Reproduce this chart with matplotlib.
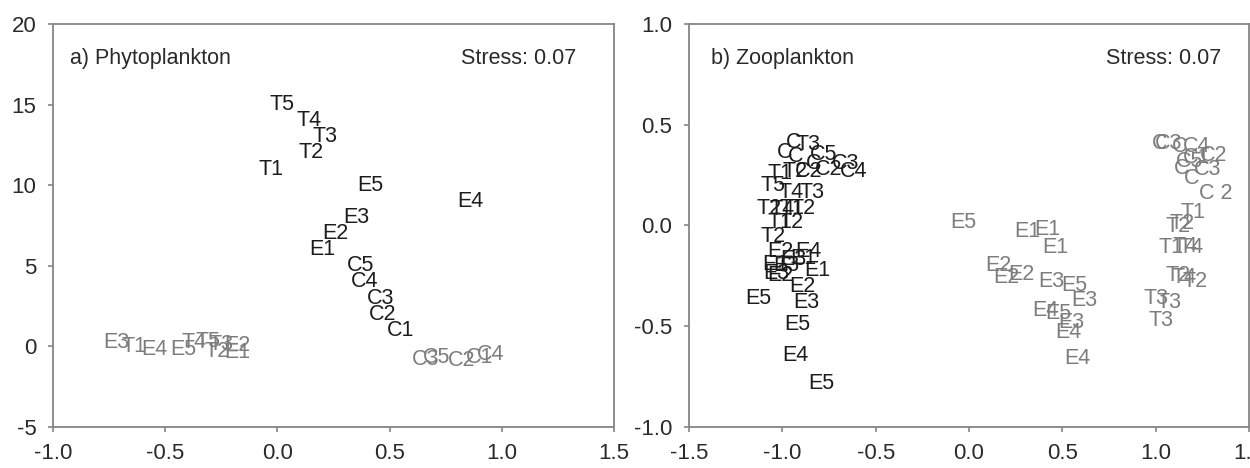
import matplotlib
matplotlib.use("Agg")
import matplotlib.pyplot as plt

plt.rcParams['font.family'] = ['Liberation Sans', 'DejaVu Sans']

# ---------------- Panel a: Phytoplankton ----------------
a_black_names = ["T5", "T4", "T3", "T2", "T1", "E5", "E4", "E3", "E2", "E1",
                 "C5", "C4", "C3", "C2", "C1"]
a_black_x = [0.02, 0.14, 0.21, 0.15, -0.03, 0.415, 0.86, 0.35, 0.26, 0.20,
             0.37, 0.39, 0.46, 0.47, 0.55]
a_black_y = [15.0, 14.0, 13.0, 12.0, 11.0, 10.0, 9.0, 8.0, 7.0, 6.0,
             5.0, 4.0, 3.0, 2.0, 1.0]

a_gray_names = ["E3", "T1", "E4", "E5", "T4", "T5", "T3", "T2", "E2", "E1",
                "C3", "C5", "C2", "C1", "C4"]
a_gray_x = [-0.72, -0.64, -0.55, -0.42, -0.37, -0.31, -0.25, -0.27, -0.18, -0.18,
            0.66, 0.71, 0.82, 0.90, 0.95]
a_gray_y = [0.25, 0.0, -0.2, -0.2, 0.25, 0.3, 0.1, -0.3, 0.05, -0.4,
            -0.8, -0.7, -0.85, -0.7, -0.5]

# ---------------- Panel b: Zooplankton ----------------
b_black_names = ["C", "T3", "C", "C", "C5", "C", "C3", "C4", "C2",
                 "T1", "T2", "C2", "T5", "T4", "T3",
                 "T2", "T4", "T1", "T2", "T1", "T2", "T2",
                 "E2", "E4", "E1", "E3", "E1", "E3", "E1", "E2", "E3",
                 "E2", "E5", "E3", "E5", "E4", "E5"]
b_black_x = [-0.94, -0.86, -0.99, -0.93, -0.78, -0.83, -0.66, -0.62, -0.75,
             -1.01, -0.93, -0.86, -1.05, -0.955, -0.84,
             -1.07, -1.00, -0.95, -0.89, -1.01, -0.955, -1.05,
             -1.01, -0.86, -0.89, -0.94, -1.04, -0.98, -0.81, -1.01, -1.03,
             -0.89, -1.13, -0.87, -0.92, -0.93, -0.79]
b_black_y = [0.41, 0.40, 0.36, 0.34, 0.35, 0.31, 0.31, 0.27, 0.28,
             0.26, 0.27, 0.27, 0.20, 0.165, 0.165,
             0.085, 0.078, 0.085, 0.085, 0.015, 0.015, -0.055,
             -0.13, -0.13, -0.165, -0.17, -0.195, -0.20, -0.225, -0.25, -0.24,
             -0.305, -0.36, -0.38, -0.49, -0.645, -0.785]

b_gray_names = ["E5", "E1", "E1", "E1", "E2", "E2", "E2", "E3", "E5", "E3",
                "E4", "E5", "E3", "E4", "E4",
                "T3", "T3", "T3", "T2", "T4", "T2", "T1", "T4", "T4", "T2", "T2", "T1",
                "C", "C3", "C", "C4", "C1", "C5", "C2", "C3", "C", "C", "C 2"]
b_gray_x = [-0.03, 0.31, 0.42, 0.46, 0.16, 0.20, 0.28, 0.44, 0.565, 0.62,
            0.41, 0.48, 0.55, 0.53, 0.58,
            1.03, 1.00, 1.07, 1.12, 1.15, 1.21, 1.08, 1.16, 1.19, 1.12, 1.14, 1.20,
            1.02, 1.07, 1.13, 1.22, 1.22, 1.18, 1.31, 1.28, 1.14, 1.19, 1.32]
b_gray_y = [0.015, -0.03, -0.02, -0.11, -0.20, -0.26, -0.245, -0.28, -0.30, -0.37,
            -0.42, -0.435, -0.48, -0.53, -0.66,
            -0.47, -0.36, -0.38, -0.25, -0.26, -0.28, -0.11, -0.105, -0.11, -0.005, 0.01, 0.065,
            0.405, 0.405, 0.39, 0.39, 0.335, 0.32, 0.345, 0.277, 0.285, 0.235, 0.16]

a_xticks = [-1.0, -0.5, 0.0, 0.5, 1.0, 1.5]
a_yticks = [-5, 0, 5, 10, 15, 20]
b_xticks = [-1.5, -1.0, -0.5, 0.0, 0.5, 1.0, 1.5]
b_yticks = [-1.0, -0.5, 0.0, 0.5, 1.0]

BLACK = "#1c1c1c"
GRAY = "#7d7d7d"
FRAME = "#858585"
TICKTXT = "#2a2a2a"
LFS = 15.5

fig = plt.figure(figsize=(12.5, 4.68), dpi=100)
W, H = 1250, 468
axA = fig.add_axes([53 / W, (H - 427) / H, 561 / W, 403 / H])
axB = fig.add_axes([689 / W, (H - 427) / H, 560 / W, 403 / H])


def style(ax, xt, yt, xl, yl, xfmt, yfmt):
    ax.set_xlim(*xl)
    ax.set_ylim(*yl)
    ax.set_xticks(xt)
    ax.set_yticks(yt)
    ax.set_xticklabels([xfmt.format(v) for v in xt])
    ax.set_yticklabels([yfmt.format(v) for v in yt])
    for s in ax.spines.values():
        s.set_color(FRAME)
        s.set_linewidth(1.3)
    ax.tick_params(axis='both', direction='out', length=3.5, width=1.2,
                   color=FRAME, labelsize=16, labelcolor=TICKTXT)
    ax.tick_params(axis='x', pad=8)
    ax.tick_params(axis='y', pad=8.5)


style(axA, a_xticks, a_yticks, (-1.0, 1.5), (-5, 20), "{:.1f}", "{:d}")
style(axB, b_xticks, b_yticks, (-1.5, 1.5), (-1.0, 1.0), "{:.1f}", "{:.1f}")

for n, x, y in zip(a_gray_names, a_gray_x, a_gray_y):
    axA.text(x, y, n, color=GRAY, fontsize=LFS, ha='center', va='center')
for n, x, y in zip(a_black_names, a_black_x, a_black_y):
    axA.text(x, y, n, color=BLACK, fontsize=LFS, ha='center', va='center')
for n, x, y in zip(b_gray_names, b_gray_x, b_gray_y):
    axB.text(x, y, n, color=GRAY, fontsize=LFS, ha='center', va='center')
for n, x, y in zip(b_black_names, b_black_x, b_black_y):
    axB.text(x, y, n, color=BLACK, fontsize=LFS, ha='center', va='center')

axA.text(0.03, 0.915, "a) Phytoplankton", transform=axA.transAxes,
         fontsize=15.5, color=TICKTXT, ha='left', va='center')
axA.text(0.932, 0.915, "Stress: 0.07", transform=axA.transAxes,
         fontsize=15.5, color=TICKTXT, ha='right', va='center')
axB.text(0.039, 0.915, "b) Zooplankton", transform=axB.transAxes,
         fontsize=15.5, color=TICKTXT, ha='left', va='center')
axB.text(0.95, 0.915, "Stress: 0.07", transform=axB.transAxes,
         fontsize=15.5, color=TICKTXT, ha='right', va='center')

fig.savefig("out.png", dpi=100)
